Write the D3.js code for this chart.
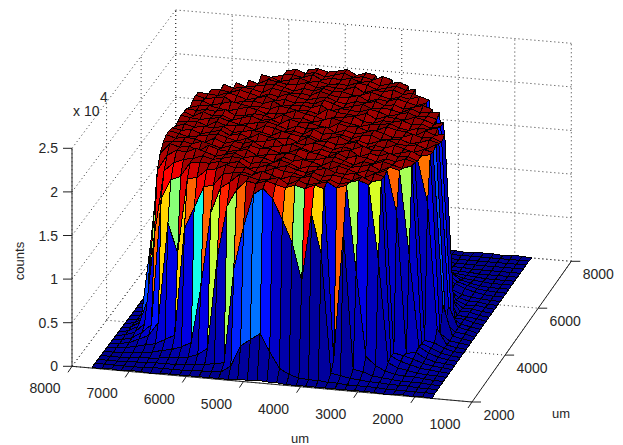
<!DOCTYPE html>
<html>
<head>
<meta charset="utf-8">
<script src="https://cdn.jsdelivr.net/npm/d3@7"></script>
<style>
  html, body { margin: 0; padding: 0; background: #fff; }
  text { font-family: "Liberation Sans", Arial, sans-serif; fill: #262626; }
</style>
</head>
<body>
<div class="canvas"></div>
<script>
const xTicks = [8000, 7000, 6000, 5000, 4000, 3000, 2000, 1000];
const yTicks = [2000, 4000, 6000, 8000];
const zTicks = [0, 5000, 10000, 15000, 20000, 25000];
const zTickLabels = ['0', '0.5', '1', '1.5', '2', '2.5'];

// grid of the surface, um
const xValues = [1700, 1870, 2040, 2210, 2380, 2550, 2720, 2890, 3060, 3230, 3400, 3570, 3740, 3910, 4080, 4250, 4420, 4590,
  4760, 4930, 5100, 5270, 5440, 5610, 5780, 5950, 6120, 6290, 6460, 6630, 6800, 6970, 7140, 7310, 7480, 7650];
const yValues = [2000, 2170, 2340, 2510, 2690, 2860, 3030, 3200, 3370, 3540, 3710, 3890, 4060, 4230, 4400, 4570, 4740, 4910,
  5090, 5260, 5430, 5600, 5770, 5940, 6110, 6290, 6460, 6630, 6800, 6970, 7140, 7310, 7490, 7660, 7830, 8000];

// counts / 100, one row per y value
const zRows = [
  [0,1,0,1,1,0,1,1,1,1,1,1,1,1,1,1,2,2,3,2,2,1,1,1,1,1,1,1,1,0,1,1,0,1,0,1],
  [1,1,1,1,1,1,2,2,2,2,3,3,4,4,5,8,14,32,52,44,36,12,4,3,3,3,2,2,2,2,1,1,1,1,1,1],
  [1,1,1,2,2,2,3,3,4,5,7,9,145,190,112,155,180,203,214,206,168,118,10,8,6,5,4,3,3,3,2,2,1,1,1,1],
  [1,1,2,2,2,3,4,5,9,11,168,20,215,218,213,216,212,215,218,214,216,205,185,125,20,12,8,6,5,4,3,3,2,1,1,1],
  [1,1,2,3,3,4,7,12,22,118,216,212,218,215,213,217,211,218,215,213,216,218,208,200,170,85,20,14,10,8,5,4,3,2,1,1],
  [1,2,2,3,5,7,12,128,214,218,215,212,216,213,218,215,216,212,215,219,213,216,214,212,198,195,170,145,22,16,10,8,5,3,2,1],
  [1,2,3,4,7,10,15,216,213,218,212,215,217,214,218,212,215,216,219,214,212,217,215,218,212,210,200,198,112,145,30,14,9,4,2,1],
  [1,2,3,5,9,12,14,215,218,212,216,214,215,219,216,212,214,218,215,217,213,211,218,215,216,213,213,212,195,190,168,22,12,5,2,1],
  [1,2,3,6,12,10,170,218,214,216,212,215,218,213,216,215,211,216,219,214,215,212,217,218,215,213,216,212,210,205,195,120,18,7,3,1],
  [1,2,4,8,14,118,214,217,212,218,215,213,216,218,212,215,217,214,218,211,215,216,213,218,215,212,216,219,214,215,208,190,40,9,3,1],
  [1,2,4,9,13,216,212,215,218,214,216,211,215,218,216,213,212,217,218,215,214,212,218,216,214,215,219,212,216,214,217,205,100,10,3,1],
  [1,2,5,10,12,215,218,214,216,212,215,217,213,218,212,215,216,219,214,212,216,215,218,213,216,212,215,218,214,216,215,213,60,9,3,1],
  [1,2,4,22,165,212,216,215,218,214,216,211,218,215,213,216,212,215,219,216,214,212,218,215,216,213,218,212,215,216,214,217,30,7,2,1],
  [1,3,4,12,216,213,218,215,212,216,215,219,214,216,212,215,218,214,216,211,218,215,213,216,212,215,218,216,214,212,215,217,20,6,2,1],
  [1,3,5,40,214,216,212,215,218,214,216,212,218,215,213,216,215,219,212,216,214,215,218,212,216,213,218,215,212,216,214,216,12,5,2,1],
  [1,4,5,15,218,212,216,214,215,219,216,212,215,213,218,215,211,216,214,216,218,212,215,216,214,212,218,215,216,214,217,213,22,6,2,1],
  [1,4,6,30,215,218,214,212,216,215,213,218,216,212,215,216,214,219,212,215,213,216,218,212,216,215,214,218,212,216,215,214,15,5,2,1],
  [1,3,5,12,212,216,215,218,214,212,216,219,215,213,216,212,218,215,214,216,211,215,218,216,214,212,215,218,216,214,215,217,17,6,2,1],
  [1,3,6,6,216,214,218,212,215,216,219,214,212,216,215,218,212,213,216,215,218,212,216,214,218,215,211,216,214,218,212,216,10,4,1,1],
  [1,3,4,5,30,218,215,216,212,214,218,216,215,212,214,216,219,215,212,216,214,218,212,215,216,213,212,218,215,216,214,215,14,5,1,1],
  [1,2,5,5,20,215,212,216,214,218,215,216,212,213,218,216,215,211,214,216,219,215,214,212,216,218,215,212,214,216,215,212,9,4,1,1],
  [1,2,4,4,12,215,212,216,218,214,215,216,212,218,214,215,216,219,212,215,214,216,218,213,215,214,216,218,215,212,216,215,7,3,1,1],
  [1,2,4,3,8,30,213,216,214,218,215,212,216,218,214,215,216,212,218,214,216,215,213,218,214,216,215,212,218,216,214,217,5,3,1,1],
  [1,1,3,3,6,14,216,216,214,218,212,215,216,214,218,215,212,216,219,214,215,213,216,214,218,215,212,216,218,214,215,216,4,2,1,1],
  [1,1,2,3,5,10,20,214,218,215,212,216,214,218,215,216,212,214,218,216,213,215,218,214,216,212,215,218,214,216,215,6,3,1,1,1],
  [1,1,2,4,7,12,14,30,216,212,215,218,214,216,212,218,215,214,216,219,213,215,214,216,218,212,215,216,214,218,8,4,2,1,1,1],
  [1,1,2,3,6,9,16,50,215,218,214,216,212,215,218,214,213,216,215,218,214,216,212,215,218,216,214,212,216,8,4,3,2,1,1,1],
  [1,1,1,2,4,7,14,28,48,212,216,214,218,215,216,212,218,214,215,216,213,218,215,214,216,218,212,215,6,4,3,2,2,1,1,1],
  [1,1,1,2,3,4,8,16,30,60,216,214,218,215,212,216,218,214,215,213,216,214,218,215,212,216,218,6,3,3,2,2,1,1,1,1],
  [1,1,1,1,2,3,4,6,12,28,70,214,218,215,212,216,214,218,215,216,213,218,214,216,215,212,5,3,3,2,2,1,1,1,1,1],
  [1,1,1,1,1,2,2,3,4,7,18,40,90,215,218,213,216,214,218,215,212,216,214,218,215,5,3,2,2,2,1,1,1,1,1,1],
  [1,1,1,1,1,1,2,2,2,3,4,6,12,18,30,214,216,212,218,215,213,216,214,80,5,3,2,2,1,1,1,1,1,1,1,1],
  [1,1,1,1,1,1,1,1,2,2,2,2,3,4,5,8,12,10,7,5,3,2,2,1,1,1,1,1,1,1,1,1,1,1,1,1],
  [1,1,1,1,1,1,1,1,1,1,2,2,2,3,3,4,5,4,3,3,2,2,1,1,1,1,1,1,1,1,1,1,1,1,1,1],
  [1,1,1,1,1,1,1,1,1,1,1,1,2,2,2,2,3,2,2,2,1,1,1,1,1,1,1,1,1,1,1,1,1,1,1,1],
  [0,1,1,0,1,1,1,0,1,1,1,1,1,1,2,1,1,2,1,1,1,1,1,0,1,1,1,1,0,1,1,1,0,1,1,0]
];

let width = 623, height = 445;

const svg = d3.select('.canvas')
    .append('svg')
    .attr('width', width)
    .attr('height', height)
    .style('display', 'block')
    ;

// floor corners of the box on screen, the view has a little perspective
const floorNearLeft = [72, 366.3], floorNearRight = [472, 402];
const floorFarLeft = [175.7, 228], floorFarRight = [571.3, 261.3];

const xScale = d3.scaleLinear().domain([8000, 1000]).range([0, 1]);
const yScale = d3.scaleLinear().domain([2000, 8000]).range([0, 1]);
const zScale = d3.scaleLinear().domain([0, 25000]).range([0, -218]);

let project = (x, y, z) => {
    const u = xScale(x), v = yScale(y);
    const near = d3.interpolate(floorNearLeft, floorNearRight)(u);
    const far = d3.interpolate(floorFarLeft, floorFarRight)(u);
    const p = d3.interpolate(near, far)(v);
    return [p[0], p[1] + zScale(z)];
};

const line = d3.line();

// jet colormap, 64 steps like matlab
const jet = d3.scaleLinear()
    .domain([0, 0.125, 0.375, 0.625, 0.875, 1])
    .range(['#00008f', '#0000ff', '#00ffff', '#ffff00', '#ff0000', '#800000'])
    .clamp(true);
const colorMax = 21800;
let faceColor = (z) => jet(Math.round(z / colorMax * 63) / 63);

//##GRID
const grid = svg.append('g')
    .attr('fill', 'none')
    .attr('stroke', '#333')
    .attr('stroke-width', 1)
    .attr('stroke-dasharray', '1 3')
    ;
let gridLine = (a, b) => grid.append('path').attr('d', line([project(...a), project(...b)]));

zTicks.forEach((z) => {
    gridLine([8000, 2000, z], [8000, 8000, z]);
    gridLine([8000, 8000, z], [1000, 8000, z]);
});
xTicks.forEach((x) => {
    gridLine([x, 8000, 0], [x, 8000, 25000]);
    gridLine([x, 2000, 0], [x, 8000, 0]);
});
yTicks.forEach((y) => {
    gridLine([8000, y, 0], [8000, y, 25000]);
    gridLine([8000, y, 0], [1000, y, 0]);
});

//##AXES
const axes = svg.append('g')
    .attr('fill', 'none')
    .attr('stroke', '#222')
    .attr('stroke-width', 1)
    ;
let axisLine = (a, b) => axes.append('path').attr('d', line([a, b]));

axisLine(project(8000, 2000, 0), project(8000, 2000, 25000));
axisLine(project(8000, 2000, 0), project(1000, 2000, 0));
axisLine(project(1000, 2000, 0), project(1000, 8000, 0));

zTicks.forEach((z) => {
    const p = project(8000, 2000, z);
    axisLine(p, [p[0] - 9, p[1]]);
});
xTicks.forEach((x) => {
    const p = project(x, 2000, 0);
    axisLine(p, [p[0] - 4, p[1] + 6]);
});
yTicks.forEach((y) => {
    const p = project(1000, y, 0);
    axisLine(p, [p[0] + 9, p[1]]);
});

//##SURFACE
// far rows first, far columns first, so nearer faces paint over
const faces = [];
for (let j = yValues.length - 2; j >= 0; j--) {
    for (let i = xValues.length - 2; i >= 0; i--) {
        faces.push({
            z: zRows[j][i] * 100,
            corners: [[i, j], [i + 1, j], [i + 1, j + 1], [i, j + 1]]
                .map(([a, b]) => project(xValues[a], yValues[b], zRows[b][a] * 100))
        });
    }
}

svg.append('g')
    .selectAll('path')
    .data(faces)
    .enter()
    .append('path')
    .attr('d', (d) => line(d.corners) + 'Z')
    .attr('fill', (d) => faceColor(d.z))
    .attr('stroke', '#000')
    .attr('stroke-width', 1)
    .attr('stroke-linejoin', 'round')
    .attr('shape-rendering', 'crispEdges')
    ;

//##LABELS
const labels = svg.append('g').attr('font-size', 14);

labels.selectAll('.z-tick')
    .data(zTicks)
    .enter()
    .append('text')
    .attr('class', 'z-tick')
    .attr('x', (d) => project(8000, 2000, d)[0] - 14)
    .attr('y', (d) => project(8000, 2000, d)[1] + 5)
    .attr('text-anchor', 'end')
    .text((d, i) => zTickLabels[i])
    ;

labels.selectAll('.x-tick')
    .data(xTicks)
    .enter()
    .append('text')
    .attr('class', 'x-tick')
    .attr('x', (d) => project(d, 2000, 0)[0] - 27)
    .attr('y', (d) => project(d, 2000, 0)[1] + 27)
    .attr('text-anchor', 'middle')
    .text((d) => d)
    ;

labels.selectAll('.y-tick')
    .data(yTicks)
    .enter()
    .append('text')
    .attr('class', 'y-tick')
    .attr('x', (d) => project(1000, d, 0)[0] + 27)
    .attr('y', (d) => project(1000, d, 0)[1] + 18)
    .attr('text-anchor', 'middle')
    .text((d) => d)
    ;

labels.append('text').attr('x', 73).attr('y', 116).text('x 10');
labels.append('text').attr('x', 100).attr('y', 102).text('4');
labels.append('text').attr('x', 300).attr('y', 443).attr('text-anchor', 'middle').attr('font-size', 13).text('um');
labels.append('text').attr('x', 561).attr('y', 418).attr('text-anchor', 'middle').attr('font-size', 13).text('um');
labels.append('text')
    .attr('transform', 'translate(24, 261) rotate(-90)')
    .attr('text-anchor', 'middle')
    .attr('font-size', 13)
    .text('counts')
    ;
</script>
</body>
</html>
